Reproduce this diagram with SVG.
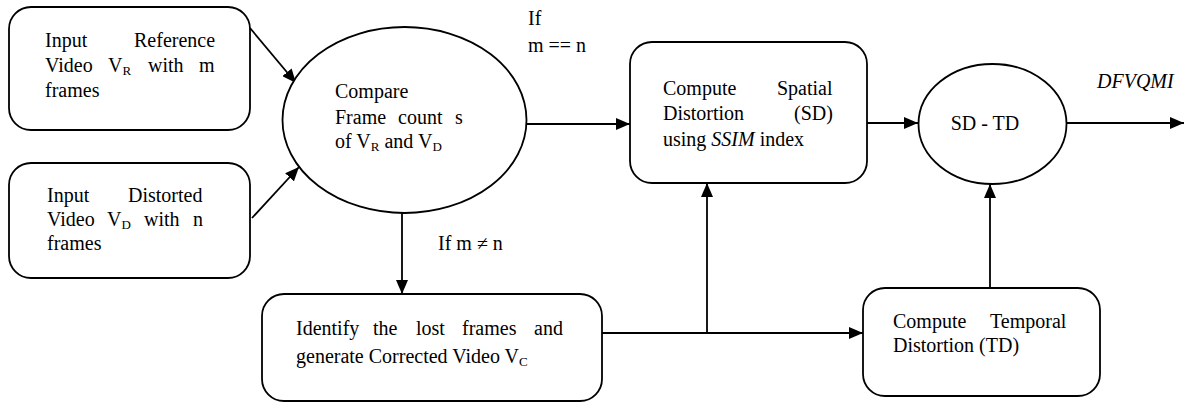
<svg xmlns="http://www.w3.org/2000/svg" width="1184" height="404" viewBox="0 0 1184 404">
<style>
.n{fill:#fff;stroke:#000;stroke-width:1.8}
text{font-family:'Liberation Serif','DejaVu Serif',serif;font-size:20px;fill:#000}
.sub{font-size:13px}
.c{fill:none;stroke:#000;stroke-width:1.8}
</style>
<defs>
<marker id="ah" markerWidth="14" markerHeight="12" refX="14" refY="6" orient="auto" markerUnits="userSpaceOnUse"><path d="M0,0 L14,6 L0,12 z" fill="#000"/></marker>
</defs>
<rect width="1184" height="404" fill="#fff"/>
<g id="connectors">
<path class="c" d="M250,28 L296,83" marker-end="url(#ah)"/>
<path class="c" d="M252,218 L299,167" marker-end="url(#ah)"/>
<path class="c" d="M527,124 L630,124" marker-end="url(#ah)"/>
<path class="c" d="M402,213 L402,294" marker-end="url(#ah)"/>
<path class="c" d="M602,333 L863,333" marker-end="url(#ah)"/>
<path class="c" d="M707,333 L707,183" marker-end="url(#ah)"/>
<path class="c" d="M867,123 L918,123" marker-end="url(#ah)"/>
<path class="c" d="M990,288 L990,184" marker-end="url(#ah)"/>
<path class="c" d="M1067,123 L1184,123" marker-end="url(#ah)"/>
<text x="528" y="25">If</text>
<text x="528" y="52">m == n</text>
<text x="438" y="250">If m ≠ n</text>
<text x="1097" y="88" font-style="italic">DFVQMI</text>
</g>
<g id="input-ref">
<rect class="n" x="9" y="7" width="241" height="123" rx="22"/>
<text y="47"><tspan x="45">Input</tspan><tspan x="134">Reference</tspan></text>
<text y="72"><tspan x="45">Video</tspan><tspan x="108">V</tspan><tspan class="sub" dy="3">R</tspan><tspan x="148" dy="-3">with</tspan><tspan x="199">m</tspan></text>
<text x="45" y="97">frames</text>
</g>
<g id="input-dist">
<rect class="n" x="9" y="163" width="241" height="115" rx="22"/>
<text y="202"><tspan x="47">Input</tspan><tspan x="128">Distorted</tspan></text>
<text y="226"><tspan x="47">Video</tspan><tspan x="107">V</tspan><tspan class="sub" dy="3">D</tspan><tspan x="144" dy="-3">with</tspan><tspan x="193">n</tspan></text>
<text x="47" y="250">frames</text>
</g>
<g id="compare">
<ellipse class="n" cx="404.5" cy="120" rx="122" ry="93"/>
<text x="335" y="98">Compare</text>
<text y="124"><tspan x="335">Frame</tspan><tspan x="398">count</tspan><tspan x="455">s</tspan></text>
<text x="335" y="148">of V<tspan class="sub" dy="3">R</tspan><tspan dy="-3"> and V</tspan><tspan class="sub" dy="3">D</tspan></text>
</g>
<g id="identify">
<rect class="n" x="262" y="294" width="340" height="107" rx="22"/>
<text y="335"><tspan x="296">Identify</tspan><tspan x="373">the</tspan><tspan x="416">lost</tspan><tspan x="462">frames</tspan><tspan x="534">and</tspan></text>
<text x="296" y="363">generate Corrected Video V<tspan class="sub" dy="3">C</tspan></text>
</g>
<g id="spatial">
<rect class="n" x="630" y="42" width="237" height="141" rx="22"/>
<text y="95"><tspan x="663">Compute</tspan><tspan x="777">Spatial</tspan></text>
<text y="120"><tspan x="663">Distortion</tspan><tspan x="794">(SD)</tspan></text>
<text x="663" y="146">using <tspan font-style="italic">SSIM</tspan> index</text>
</g>
<g id="sdtd">
<ellipse class="n" cx="992.5" cy="124" rx="74" ry="60"/>
<text x="985" y="130" text-anchor="middle">SD - TD</text>
</g>
<g id="temporal">
<rect class="n" x="863" y="288" width="237" height="108" rx="22"/>
<text y="328"><tspan x="893">Compute</tspan><tspan x="990">Temporal</tspan></text>
<text x="893" y="352">Distortion (TD)</text>
</g>
</svg>
